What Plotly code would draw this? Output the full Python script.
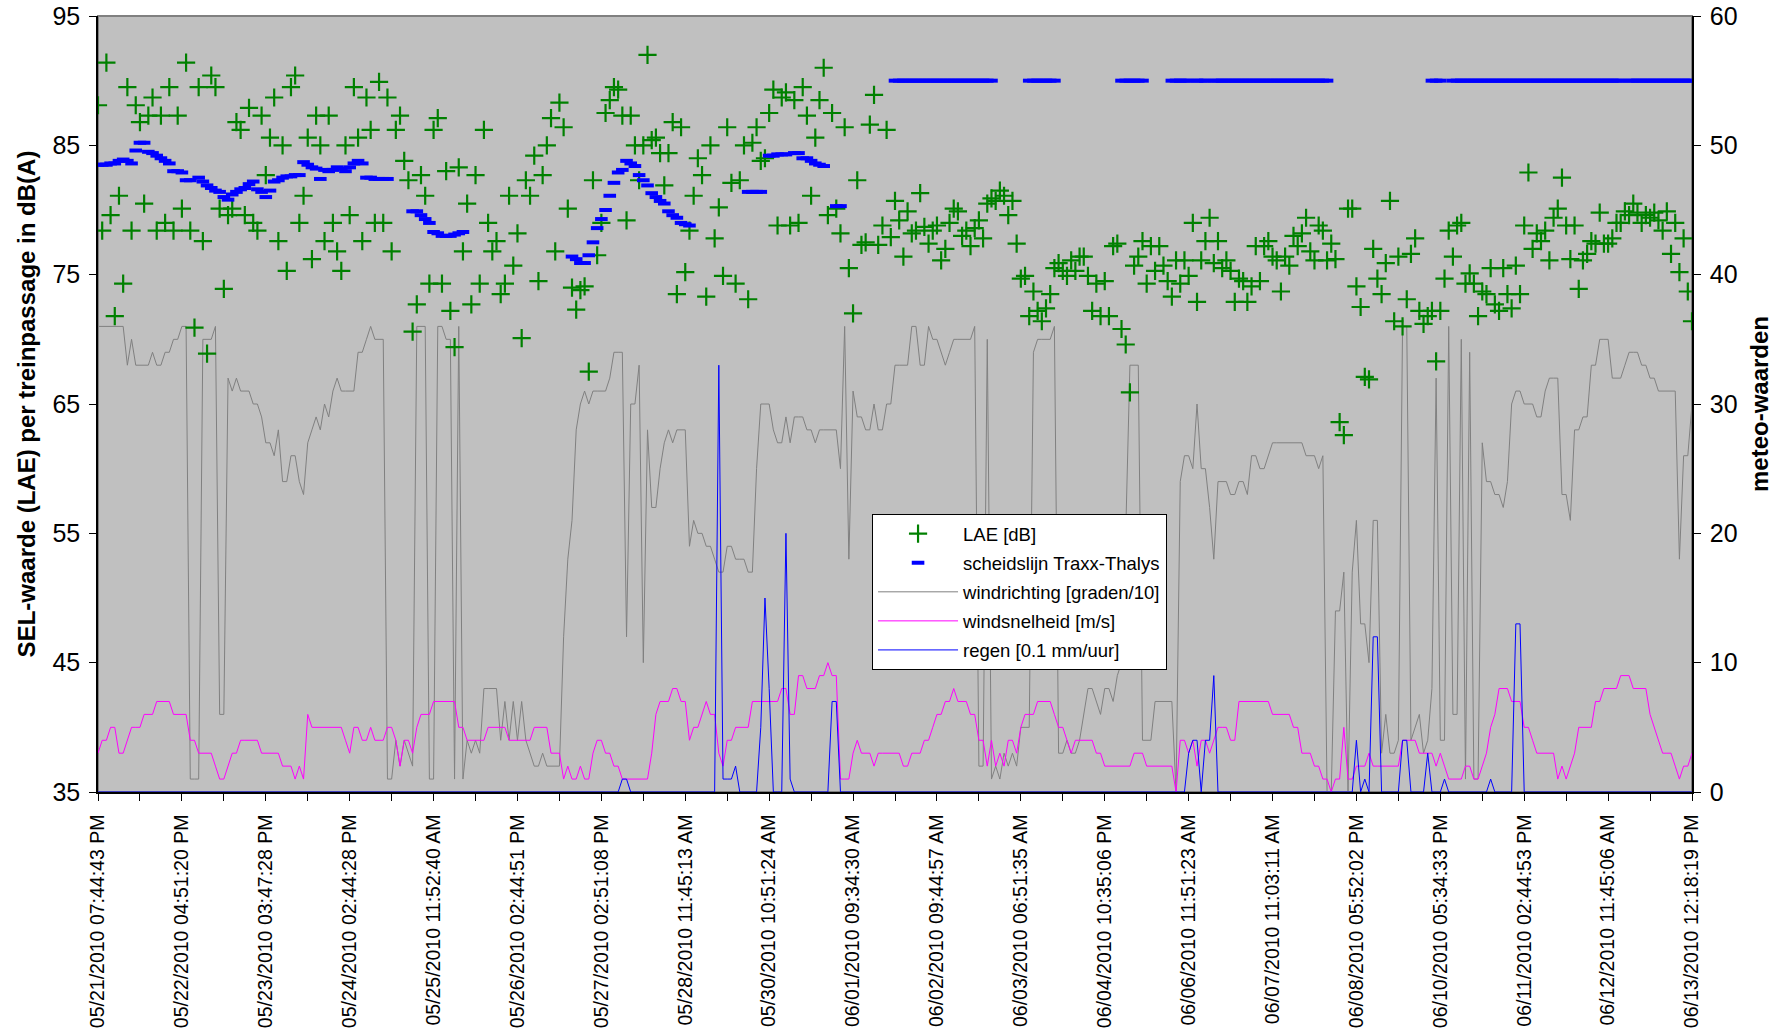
import plotly.graph_objects as go

N_ = None
FONT = "Liberation Sans, Arial, sans-serif"

tick_labels = [
    "05/21/2010 07:44:43 PM", "05/22/2010 04:51:20 PM", "05/23/2010 03:47:28 PM",
    "05/24/2010 02:44:28 PM", "05/25/2010 11:52:40 AM", "05/26/2010 02:44:51 PM",
    "05/27/2010 02:51:08 PM", "05/28/2010 11:45:13 AM", "05/30/2010 10:51:24 AM",
    "06/01/2010 09:34:30 AM", "06/02/2010 09:44:57 AM", "06/03/2010 06:51:35 AM",
    "06/04/2010 10:35:06 PM", "06/06/2010 11:51:23 AM", "06/07/2010 11:03:11 AM",
    "06/08/2010 05:52:02 PM", "06/10/2010 05:34:33 PM", "06/11/2010 02:44:53 PM",
    "06/12/2010 11:45:06 AM", "06/13/2010 12:18:19 PM",
]
label_step = 20  # categories between two date labels

# LAE [dB] per train passage (left axis)
lae = [
    88.1, 78.4, 91.4, 79.6, 71.8, 81.1, 74.3, 89.5, 78.4, 88.1, 86.8, 80.5, 87.3, 88.7, 78.4, 87.3, 79.0, 89.5, 78.4, 87.3,
    80.1, 91.4, 78.4, 70.9, 89.5, 77.6, 68.9, 90.4, 89.5, 80.1, 73.9, 79.6, 80.1, 86.8, 86.2, 79.6, 87.9, 79.0, 78.4, 87.3,
    82.7, 85.6, 88.7, 77.6, 85.0, 75.3, 89.5, 90.4, 79.0, 81.1, 85.6, 76.2, 87.3, 85.0, 77.6, 87.3, 79.0, 76.8, 75.3, 85.0,
    79.6, 89.5, 85.6, 77.6, 88.7, 86.2, 79.0, 89.9, 79.0, 88.7, 76.8, 86.2, 87.3, 83.8, 82.3, 70.6, 72.7, 82.7, 81.1, 74.3,
    86.2, 87.1, 74.3, 83.0, 72.2, 69.4, 83.3, 76.8, 80.5, 72.7, 82.7, 74.3, 86.2, 79.0, 76.8, 77.6, 73.5, 74.3, 81.1, 75.7,
    78.2, 70.1, 82.3, 81.1, 84.2, 74.5, 82.7, 85.0, 87.1, 76.8, 88.3, 86.4, 80.1, 74.0, 72.3, 73.8, 74.1, 67.5, 82.3, 76.5,
    79.0, 87.5, 88.5, 89.5, 89.3, 87.3, 79.2, 87.3, 85.0, 82.3, 85.0, 92.0, 85.4, 85.6, 84.4, 81.9, 84.4, 86.8, 73.5, 86.4,
    75.2, 78.4, 81.1, 84.0, 82.7, 73.3, 85.0, 77.8, 80.2, 74.9, 86.4, 82.1, 74.3, 82.3, 85.0, 73.1, 85.2, 86.4, 83.8, 84.0,
    87.5, 89.3, 78.8, 88.7, 89.1, 78.8, 88.5, 79.0, 89.5, 87.3, 81.1, 85.6, 88.5, 91.0, 79.6, 87.5, 80.1, 78.2, 86.4, 75.5,
    72.0, 82.3, 77.3, 77.5, 86.6, 88.9, 77.3, 78.8, 86.2, 77.9, 80.7, 79.2, 76.4, 79.9, 78.2, 78.4, 81.3, 78.7, 77.4, 78.4,
    78.8, 76.1, 77.0, 79.0, 80.1, 79.9, 78.0, 78.4, 77.2, 78.6, 79.2, 77.8, 80.5, 80.9, 80.7, 81.5, 81.1, 79.6, 80.7, 77.4,
    74.7, 74.9, 71.8, 73.7, 72.2, 71.4, 72.4, 73.5, 75.5, 75.9, 75.3, 74.9, 76.1, 75.3, 76.4, 76.4, 74.9, 72.2, 74.3, 71.8,
    74.5, 71.8, 77.2, 77.4, 70.8, 69.6, 65.9, 75.7, 76.4, 77.6, 74.3, 77.2, 75.3, 77.2, 75.7, 74.5, 73.3, 76.1, 74.3, 76.1,
    74.9, 79.0, 72.9, 76.1, 77.6, 79.4, 75.9, 77.6, 75.5, 76.1, 75.3, 72.9, 74.7, 74.5, 72.9, 74.1, 77.2, 74.5, 77.2, 77.6,
    76.4, 76.1, 73.7, 76.4, 75.7, 78.0, 77.2, 78.2, 79.4, 76.8, 76.1, 78.8, 78.4, 76.1, 77.4, 76.2, 63.6, 62.6, 80.1, 80.1,
    74.1, 72.5, 67.1, 66.9, 77.0, 74.7, 73.5, 75.9, 80.7, 71.4, 76.4, 71.0, 73.1, 76.6, 77.8, 72.2, 71.2, 71.8, 72.2, 68.3,
    72.2, 74.7, 78.4, 76.4, 78.8, 79.0, 74.3, 75.1, 74.3, 71.8, 73.7, 73.5, 75.5, 72.7, 72.2, 75.5, 73.5, 72.4, 75.7, 73.5,
    78.8, 82.9, 77.0, 78.2, 77.6, 78.4, 76.1, 79.4, 80.1, 82.5, 78.8, 76.2, 78.8, 73.9, 76.1, 76.6, 77.6, 77.4, 79.8, 77.4,
    77.4, 77.8, 79.0, 79.0, 79.9, 79.6, 80.5, 79.8, 79.0, 79.6, 79.4, 79.8, 79.2, 78.4, 79.9, 76.6, 79.0, 75.2, 77.8, 73.7,
    71.4,
]

# scheidslijn Traxx-Thalys (left axis), gaps where no value
scheidslijn = [
    83.5, 83.5, 83.5, 83.6, 83.6, 83.8, 83.9, 83.8, 83.6, 84.6, 85.2, 85.2, 84.5, 84.4, 84.2, 84.0, 83.8, 83.6, 83.0, 83.0,
    82.9, 82.3, 82.3, N_, 82.5, 82.2, 81.9, 81.7, 81.5, 81.4, 81.0, 80.8, 81.2, 81.4, 81.6, 81.7, 82.0, 82.2, 81.6, 81.4,
    81.0, 81.5, 82.2, 82.3, 82.5, 82.6, 82.6, 82.7, 82.7, 83.7, 83.5, 83.3, 83.2, 82.4, 83.1, 83.0, 83.1, 83.3, 83.2, 83.0,
    83.3, 83.6, 83.8, 83.6, 82.5, 82.5, 82.4, 82.4, 82.4, 82.4, N_, N_, N_, N_, N_, 79.9, 79.9, 79.6, 79.3, 79.0,
    78.3, 78.2, 78.0, 78.0, 78.0, 78.1, 78.2, 78.3, N_, N_, N_, N_, N_, N_, N_, N_, N_, N_, N_, N_,
    N_, N_, N_, N_, N_, N_, N_, N_, N_, N_, N_, N_, N_, 76.4, 76.2, 75.9, 75.9, 76.5, 77.5, 78.6,
    79.3, 80.0, 81.1, 82.1, 82.9, 83.1, 83.8, 83.6, 83.4, 82.7, 82.3, 81.9, 81.3, 81.0, 80.7, 80.5, 79.9, 79.6, 79.4, 79.0,
    78.9, 78.8, N_, N_, N_, N_, N_, N_, N_, N_, N_, N_, N_, N_, N_, 81.4, 81.4, 81.4, 81.4, N_,
    84.2, 84.2, 84.3, 84.3, 84.3, N_, 84.4, 84.4, 84.0, 84.0, 83.8, 83.6, 83.5, 83.4, N_, N_, 80.3, 80.3, N_, N_,
    N_, N_, N_, N_, N_, N_, N_, N_, N_, N_, 90, 90, 90, 90, 90, 90, 90, 90, 90, 90,
    90, 90, 90, 90, 90, 90, 90, 90, 90, 90, 90, 90, 90, 90, N_, N_, N_, N_, N_, N_,
    N_, N_, 90, 90, 90, 90, 90, 90, 90, N_, N_, N_, N_, N_, N_, N_, N_, N_, N_, N_,
    N_, N_, N_, N_, 90, 90, 90, 90, 90, 90, N_, N_, N_, N_, N_, N_, 90, 90, 90, 90,
    90, N_, 90, 90, 90, N_, 90, 90, 90, 90, 90, 90, 90, 90, 90, 90, 90, 90, 90, 90,
    90, 90, 90, 90, 90, 90, 90, 90, 90, 90, 90, 90, 90, 90, N_, N_, N_, N_, N_, N_,
    N_, N_, N_, N_, N_, N_, N_, N_, N_, N_, N_, N_, N_, N_, N_, N_, N_, N_, 90, 90,
    90, N_, N_, 90, 90, 90, 90, 90, 90, 90, 90, 90, 90, 90, 90, 90, 90, 90, 90, 90,
    90, 90, 90, 90, 90, 90, 90, 90, 90, 90, 90, 90, 90, 90, 90, 90, 90, 90, 90, 90,
    90, 90, 90, 90, N_, 90, 90, 90, 90, 90, 90, 90, 90, 90, 90, 90, 90, 90, 90, 90,
    90,
]

# windrichting [graden/10] (right axis)
windrichting = [
    36, 36, 36, 36, 36, 36, 36, 33, 35, 33, 33, 33, 33, 34, 33, 33, 34, 34, 35, 35,
    36, 36, 1, 1, 1, 35, 35, 35, 36, 6, 6, 32, 31, 32, 31, 31, 31, 30, 30, 29,
    27, 27, 26, 28, 24, 24, 26, 26, 24, 23, 27, 28, 29, 28, 30, 29, 31, 32, 31, 31,
    31, 31, 34, 34, 35, 36, 35, 35, 35, 1, 1, 4, 2, 4, 3, 2, 36, 36, 36, 1,
    1, 36, 36, 35, 35, 1, 36, 1, 4, 3, 4, 3, 8, 8, 8, 8, 4, 7, 4, 7,
    4, 7, 4, 3, 2, 2, 3, 2, 2, 2, 2, 12, 18, 21, 28, 30, 31, 30, 31, 31,
    31, 31, 32, 34, 34, 34, 12, 30, 30, 33, 10, 28, 22, 22, 25, 27, 28, 27, 28, 28,
    28, 19, 21, 20, 20, 19, 19, 18, 17, 17, 19, 19, 18, 18, 18, 17, 17, 25, 30, 30,
    30, 28, 27, 27, 29, 27, 29, 29, 29, 28, 28, 27, 28, 28, 28, 28, 28, 25, 36, 18,
    31, 29, 29, 28, 28, 30, 28, 28, 30, 30, 33, 33, 33, 33, 36, 36, 33, 33, 36, 35,
    35, 34, 33, 34, 35, 35, 35, 35, 35, 36, 2, 2, 35, 1, 2, 1, 3, 2, 3, 2,
    5, 5, 5, 34, 35, 35, 35, 35, 36, 3, 3, 4, 3, 3, 4, 6, 8, 8, 7, 6,
    8, 8, 7, 9, 10, 20, 33, 33, 33, 4, 4, 4, 7, 7, 7, 7, 7, 0, 24, 26,
    26, 25, 30, 25, 25, 22, 18, 24, 24, 24, 23, 23, 24, 24, 23, 26, 26, 25, 25, 26,
    27, 27, 27, 27, 27, 27, 27, 27, 26, 26, 26, 25, 26, 0, 0, 14, 14, 17, 0, 17,
    21, 13, 13, 10, 21, 21, 3, 6, 3, 3, 4, 36, 36, 4, 5, 6, 3, 4, 8, 32,
    4, 4, 36, 6, 6, 35, 1, 34, 1, 1, 27, 24, 24, 23, 23, 22, 24, 30, 31, 31,
    30, 30, 30, 29, 29, 31, 32, 32, 32, 23, 23, 21, 28, 28, 29, 29, 33, 33, 35, 35,
    35, 32, 32, 32, 33, 34, 34, 34, 33, 33, 32, 32, 31, 31, 31, 31, 31, 18, 26, 26,
    30,
]

# windsnelheid [m/s] (right axis)
windsnelheid = [
    3, 4, 4, 5, 5, 3, 3, 4, 5, 5, 5, 6, 6, 6, 7, 7, 7, 7, 6, 6,
    6, 6, 4, 4, 3, 3, 3, 3, 2, 1, 1, 2, 3, 3, 4, 4, 4, 4, 4, 3,
    3, 3, 3, 3, 2, 2, 2, 1, 2, 1, 6, 5, 5, 5, 5, 5, 5, 5, 5, 4,
    3, 5, 5, 4, 4, 5, 4, 4, 4, 5, 5, 4, 2, 4, 4, 3, 5, 6, 6, 6,
    7, 7, 7, 7, 7, 7, 5, 5, 4, 4, 4, 4, 4, 5, 5, 5, 5, 5, 4, 4,
    4, 4, 4, 4, 5, 5, 5, 5, 3, 3, 3, 1, 2, 1, 1, 2, 1, 1, 3, 4,
    4, 3, 3, 2, 2, 1, 1, 1, 1, 1, 1, 1, 3, 6, 7, 7, 7, 8, 8, 7,
    7, 4, 5, 5, 6, 7, 6, 6, 3, 2, 4, 4, 5, 5, 5, 5, 7, 7, 7, 7,
    7, 7, 7, 8, 8, 6, 6, 9, 9, 8, 8, 8, 9, 9, 10, 9, 9, 1, 1, 1,
    3, 4, 3, 3, 3, 2, 3, 3, 3, 3, 3, 3, 2, 2, 3, 3, 3, 4, 4, 5,
    6, 6, 7, 7, 8, 7, 7, 7, 6, 6, 4, 4, 2, 4, 2, 3, 2, 4, 4, 3,
    5, 6, 6, 6, 7, 7, 7, 7, 6, 5, 5, 4, 3, 4, 4, 4, 4, 4, 3, 3,
    2, 2, 2, 2, 2, 2, 2, 3, 3, 3, 2, 2, 2, 2, 2, 2, 2, 0, 4, 4,
    3, 4, 2, 4, 4, 3, 4, 5, 5, 5, 4, 4, 7, 7, 7, 7, 7, 7, 7, 7,
    6, 6, 6, 6, 6, 5, 5, 3, 3, 3, 2, 2, 1, 1, 0, 1, 1, 5, 1, 1,
    2, 2, 2, 3, 2, 2, 2, 2, 2, 2, 2, 4, 4, 4, 4, 3, 3, 3, 3, 2,
    3, 2, 1, 1, 1, 1, 2, 2, 1, 1, 2, 3, 5, 6, 8, 8, 8, 7, 7, 7,
    5, 5, 4, 3, 3, 3, 3, 3, 1, 2, 1, 2, 3, 5, 5, 5, 5, 7, 7, 8,
    8, 8, 8, 9, 9, 9, 8, 8, 8, 8, 6, 5, 4, 3, 3, 3, 2, 1, 2, 2,
    3,
]

# regen [0.1 mm/uur] (right axis)
regen = [
    0, 0, 0, 0, 0, 0, 0, 0, 0, 0, 0, 0, 0, 0, 0, 0, 0, 0, 0, 0,
    0, 0, 0, 0, 0, 0, 0, 0, 0, 0, 0, 0, 0, 0, 0, 0, 0, 0, 0, 0,
    0, 0, 0, 0, 0, 0, 0, 0, 0, 0, 0, 0, 0, 0, 0, 0, 0, 0, 0, 0,
    0, 0, 0, 0, 0, 0, 0, 0, 0, 0, 0, 0, 0, 0, 0, 0, 0, 0, 0, 0,
    0, 0, 0, 0, 0, 0, 0, 0, 0, 0, 0, 0, 0, 0, 0, 0, 0, 0, 0, 0,
    0, 0, 0, 0, 0, 0, 0, 0, 0, 0, 0, 0, 0, 0, 0, 0, 0, 0, 0, 0,
    0, 0, 0, 0, 0, 1, 1, 0, 0, 0, 0, 0, 0, 0, 0, 0, 0, 0, 0, 0,
    0, 0, 0, 0, 0, 0, 0, 0, 33, 1, 1, 1, 2, 0, 0, 0, 0, 0, 5, 15,
    8, 0, 0, 0, 20, 1, 0, 0, 0, 0, 0, 0, 0, 0, 0, 7, 7, 0, 0, 0,
    0, 0, 0, 0, 0, 0, 0, 0, 0, 0, 0, 0, 0, 0, 0, 0, 0, 0, 0, 0,
    0, 0, 0, 0, 0, 0, 0, 0, 0, 0, 0, 0, 0, 0, 0, 0, 0, 0, 0, 0,
    0, 0, 0, 0, 0, 0, 0, 0, 0, 0, 0, 0, 0, 0, 0, 0, 0, 0, 0, 0,
    0, 0, 0, 0, 0, 0, 0, 0, 0, 0, 0, 0, 0, 0, 0, 0, 0, 0, 0, 0,
    3, 4, 4, 0, 4, 4, 9, 0, 0, 0, 0, 0, 0, 0, 0, 0, 0, 0, 0, 0,
    0, 0, 0, 0, 0, 0, 0, 0, 0, 0, 0, 0, 0, 0, 0, 0, 0, 0, 0, 0,
    4, 0, 1, 0, 12, 12, 0, 0, 0, 0, 0, 4, 4, 0, 0, 0, 0, 3, 0, 0,
    0, 1, 0, 0, 0, 0, 0, 0, 0, 0, 0, 0, 1, 0, 0, 0, 0, 0, 13, 13,
    0, 0, 0, 0, 0, 0, 0, 0, 0, 0, 0, 0, 0, 0, 0, 0, 0, 0, 0, 0,
    0, 0, 0, 0, 0, 0, 0, 0, 0, 0, 0, 0, 0, 0, 0, 0, 0, 0, 0, 0,
    0,
]

x = list(range(len(lae)))
tickvals = [i * label_step for i in range(len(tick_labels))]

fig = go.Figure()

# meteo series on the right axis (base subplot), drawn first
fig.add_trace(go.Scatter(x=x, y=windrichting, mode="lines", name="windrichting [graden/10]",
                         line=dict(color="#808080", width=1), yaxis="y",
                         legendgroup="c", legendrank=3))
fig.add_trace(go.Scatter(x=x, y=windsnelheid, mode="lines", name="windsnelheid [m/s]",
                         line=dict(color="#ff00ff", width=1), yaxis="y",
                         legendgroup="d", legendrank=4))
fig.add_trace(go.Scatter(x=x, y=regen, mode="lines", name="regen [0.1 mm/uur]",
                         line=dict(color="#0000ff", width=1), yaxis="y",
                         legendgroup="e", legendrank=5))
# LAE and scheidslijn on the left axis (overlay), drawn on top
fig.add_trace(go.Scatter(x=x, y=lae, mode="markers", name="LAE [dB]", yaxis="y2",
                         marker=dict(symbol="cross-thin", size=13,
                                     line=dict(color="#008000", width=2.2), color="#008000"),
                         legendgroup="a", legendrank=1))
fig.add_trace(go.Scatter(x=x, y=scheidslijn, mode="markers", name="scheidslijn Traxx-Thalys",
                         yaxis="y2",
                         marker=dict(symbol="line-ew", size=9,
                                     line=dict(color="#0000ff", width=4), color="#0000ff"),
                         legendgroup="b", legendrank=2))

axis_common = dict(showgrid=False, zeroline=False, ticks="outside", ticklen=7,
                   tickcolor="black", linecolor="black", showline=True, linewidth=1.5,
                   automargin=False, ticklabelstandoff=4,
                   tickfont=dict(family=FONT, size=25, color="black"))

fig.update_layout(
    width=1783, height=1029,
    margin=dict(l=98, r=91, t=16, b=237, pad=0),
    paper_bgcolor="white", plot_bgcolor="#c0c0c0",
    font=dict(family=FONT, color="black"),
    showlegend=True,
    legend=dict(x=0.4856, y=0.358, xanchor="left", yanchor="top",
                bgcolor="white", bordercolor="black", borderwidth=1,
                font=dict(family=FONT, size=18.5, color="black"),
                tracegroupgap=2, itemwidth=80, traceorder="grouped",
                entrywidth=332, entrywidthmode="pixels"),
    xaxis=dict(range=[0, len(lae) - 1], tickmode="array", tickvals=tickvals,
               ticktext=tick_labels, tickangle=-90, showgrid=False, zeroline=False,
               ticks="outside", ticklen=7, tickcolor="black", showline=True,
               linecolor="black", linewidth=1.5, automargin=False, ticklabelstandoff=6,
               tickfont=dict(family=FONT, size=19.5, color="black"),
               minor=dict(ticks="outside", ticklen=7, tickcolor="black",
                          tick0=label_step // 2, dtick=label_step, showgrid=False)),
    yaxis=dict(range=[0, 60], tick0=0, dtick=10, side="right",
               title=dict(text="meteo-waarden", standoff=15,
                          font=dict(family=FONT, size=24, color="black", weight="bold")),
               **axis_common),
    yaxis2=dict(range=[35, 95], tick0=35, dtick=10, side="left", overlaying="y",
                title=dict(text="SEL-waarde (LAE) per treinpassage in dB(A)", standoff=10,
                           font=dict(family=FONT, size=24, color="black", weight="bold")),
                **axis_common),
    shapes=[dict(type="rect", xref="paper", yref="paper", x0=0, x1=1, y0=0, y1=1,
                 line=dict(color="#808080", width=2), layer="below")],
)

fig.write_html("out.html")
